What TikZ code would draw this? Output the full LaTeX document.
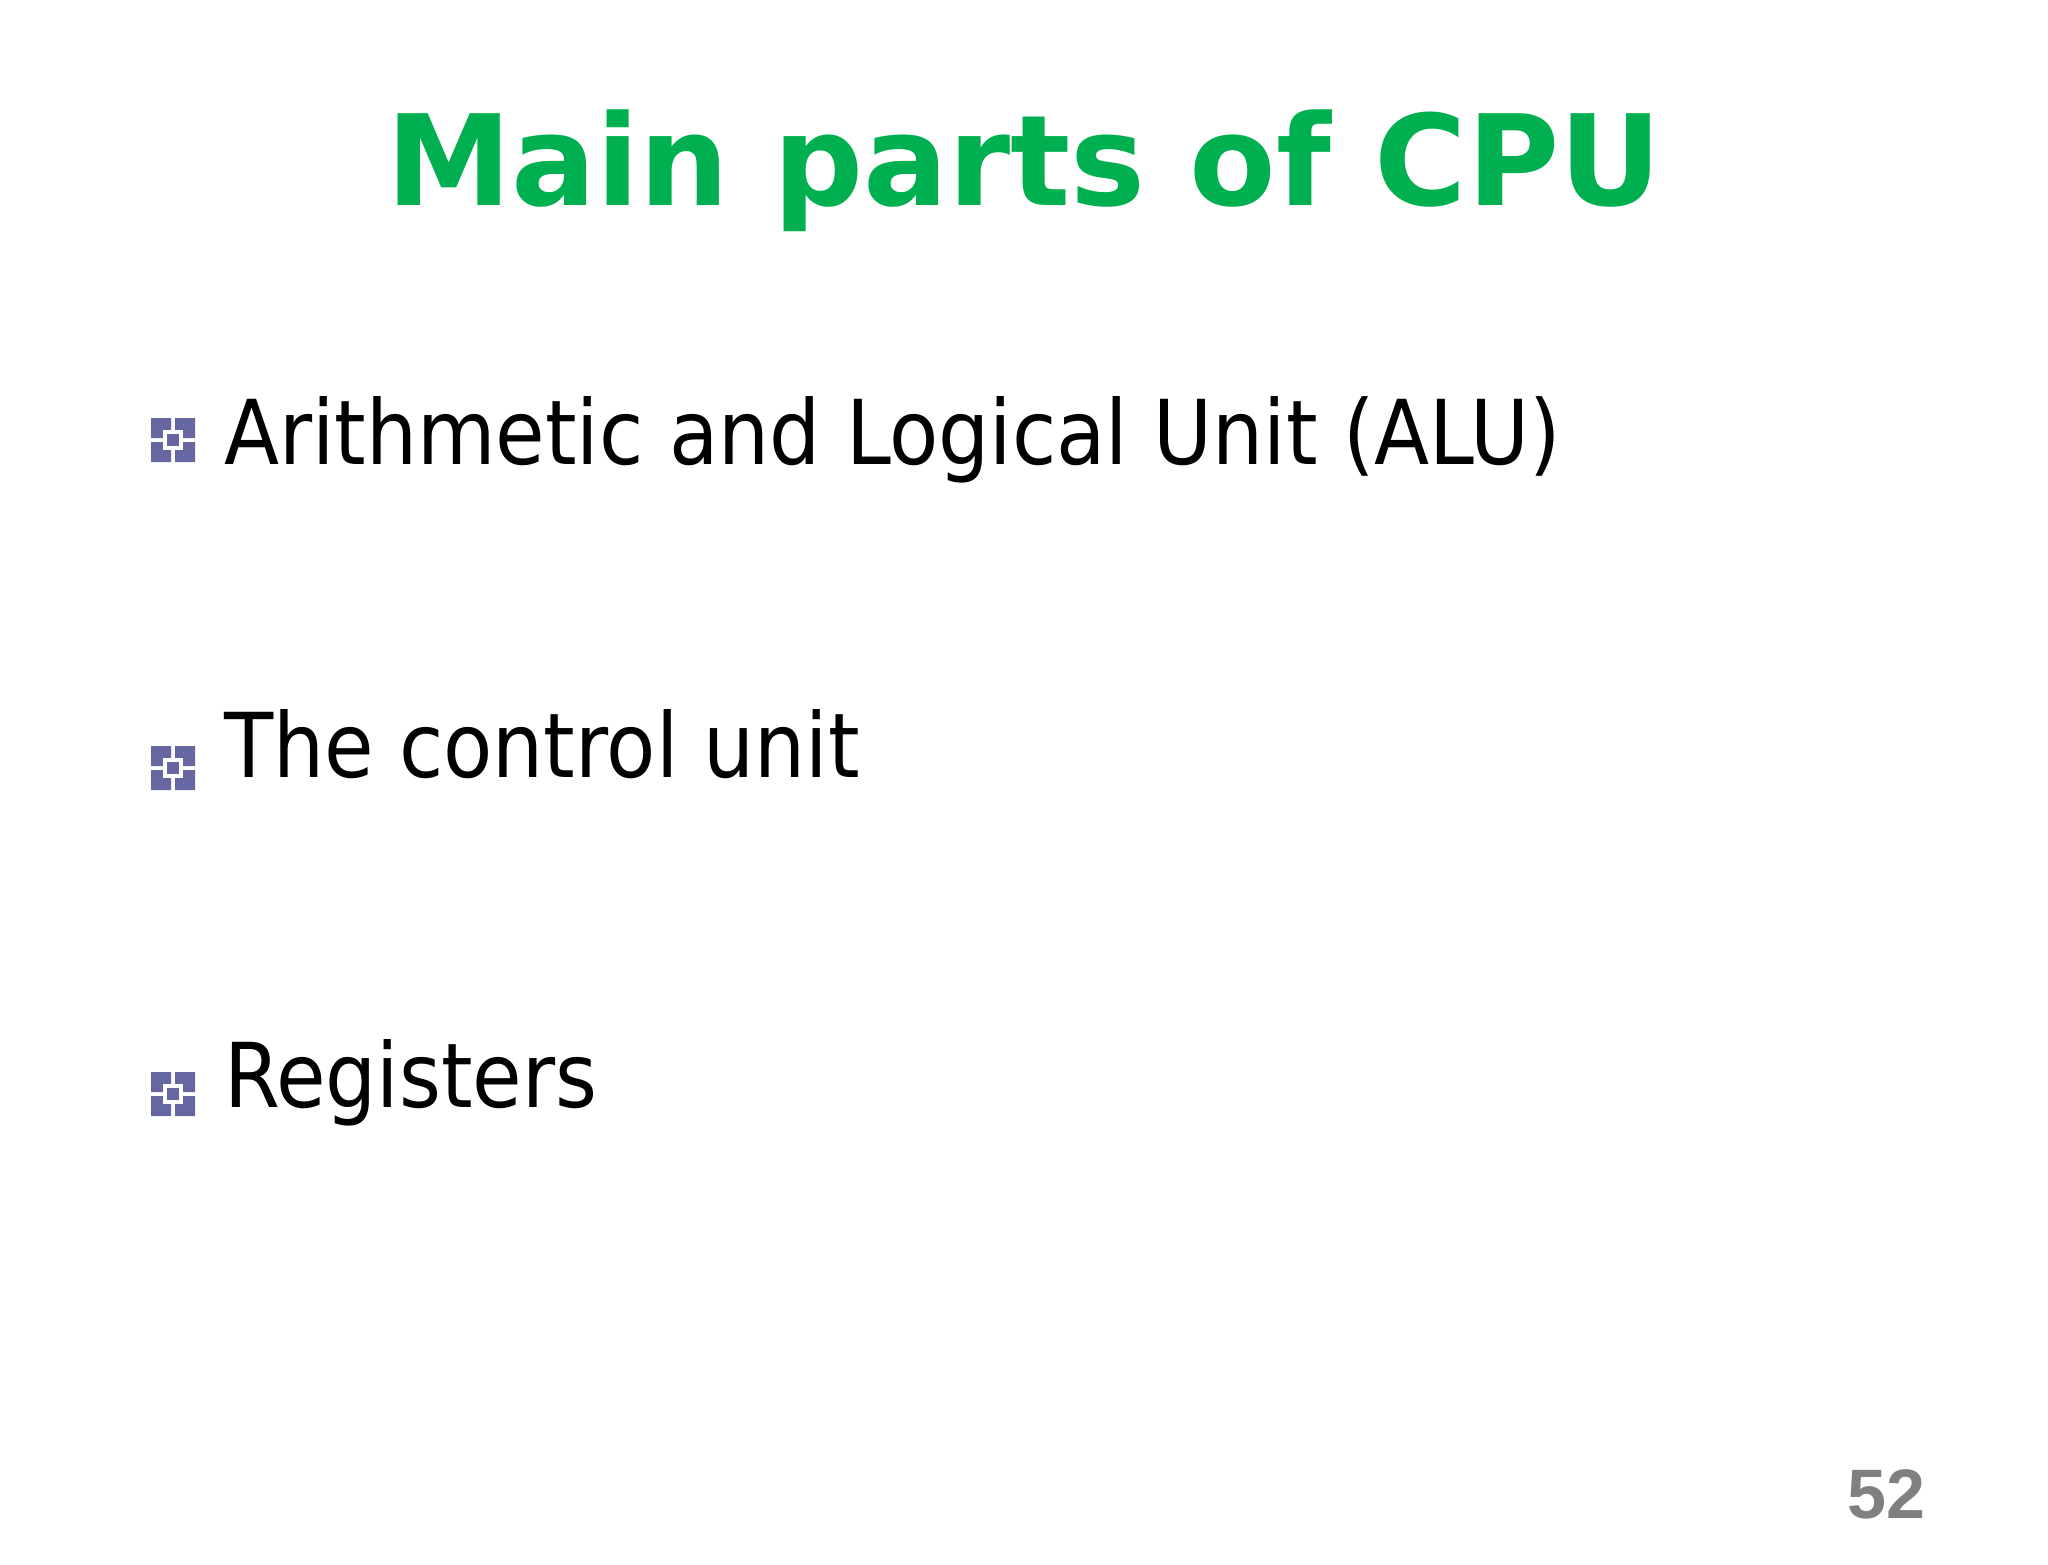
\documentclass[tikz,border=0pt]{standalone}
\usepackage{fontspec}
\setmainfont{DejaVu Sans}
\newfontfamily\bodyfont{DejaVu Sans Condensed}
\newfontfamily\numfont{Liberation Sans}
\definecolor{titlegreen}{HTML}{00B050}
\definecolor{bulletblue}{HTML}{6666A3}
\definecolor{numgray}{HTML}{808080}
\tikzset{
 item/.style={anchor=base west,inner sep=0pt,font=\bodyfont\fontsize{89.5}{89.5}\selectfont},
}
\newcommand{\bulletmark}[2]{%
 \begin{scope}[shift={(#1,#2)}]
 \fill[bulletblue] (-22,-22) rectangle (-2,-2) (2,-22) rectangle (22,-2) (-22,2) rectangle (-2,22) (2,2) rectangle (22,22);
 \fill[white] (-10,-10) rectangle (10,10);
 \fill[bulletblue] (-6,-6) rectangle (6,6);
 \end{scope}}
\begin{document}
\begin{tikzpicture}[x=1pt,y=1pt]
\useasboundingbox (0,0) rectangle (2048,-1564);
\node[anchor=base,inner sep=0pt,text=titlegreen,font=\bfseries\fontsize{126}{126}\selectfont] (title) at (1024,-205) {Main parts of CPU};
\bulletmark{173}{-440}
\bulletmark{173}{-768}
\bulletmark{173}{-1094}
\node[item] (alu) at (224,-464) {Arithmetic and Logical Unit (ALU)};
\node[item] (cu) at (224,-777) {The control unit};
\node[item] (reg) at (224,-1107) {Registers};
\node[anchor=base east,inner sep=0pt,text=numgray,font=\numfont\bfseries\fontsize{70}{70}\selectfont] (num) at (1926,-1518) {52};
\end{tikzpicture}
\end{document}
